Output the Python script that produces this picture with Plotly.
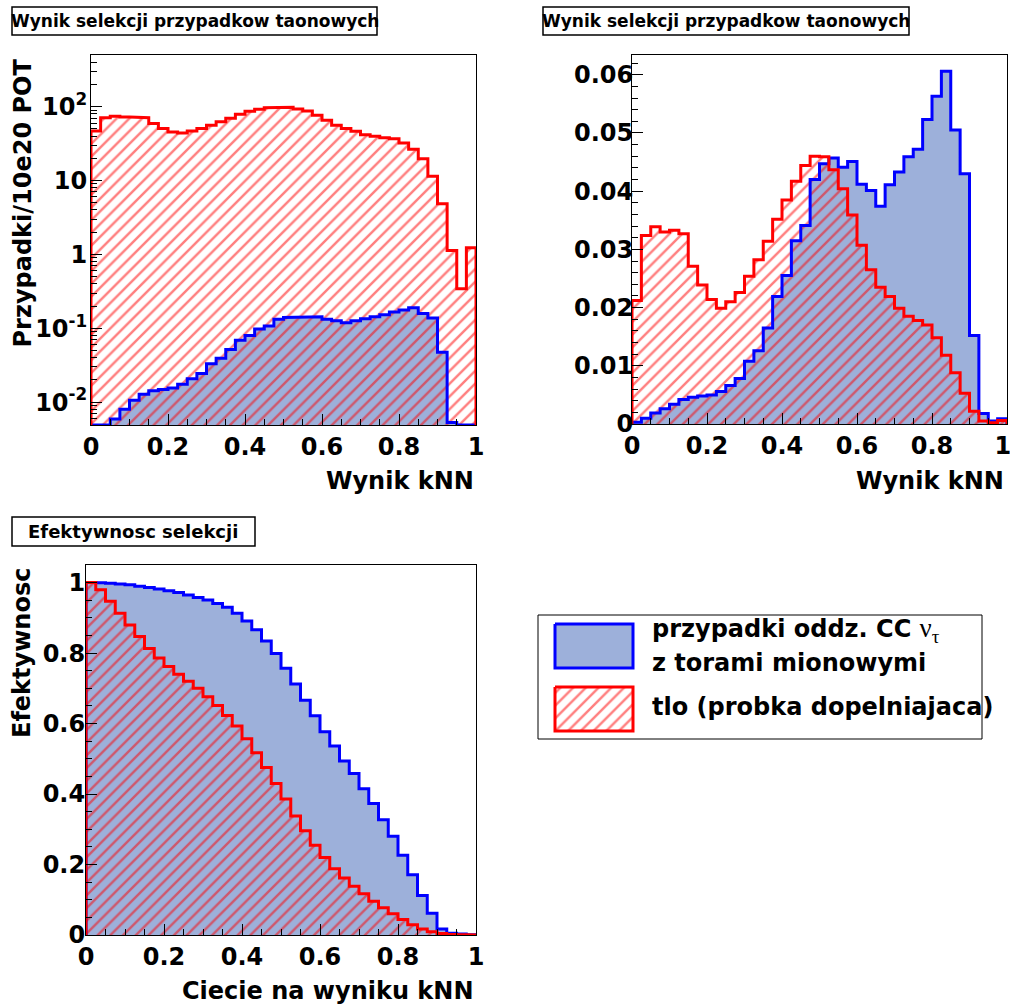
import numpy as np
import plotly.graph_objects as go

W, H = 1010, 1008

# ---------------- data ----------------
n_bins = 40
bin_edges = np.round(np.arange(n_bins + 1) * 0.025, 4)

# Panel 1: events / 10e20 POT (log scale)
sig_pot = [0.0009, 0.0031, 0.0059, 0.0080, 0.0106, 0.0128, 0.0142, 0.0148, 0.0155, 0.0175,
           0.0207, 0.0244, 0.033, 0.0394, 0.0516, 0.069, 0.080, 0.098, 0.107, 0.132,
           0.140, 0.143, 0.143, 0.143, 0.132, 0.126, 0.119, 0.126, 0.134, 0.143,
           0.152, 0.166, 0.176, 0.189, 0.158, 0.138, 0.0475, 0.0053, 0.0016, 0.0028]
bkg_pot = [46.9, 71, 74, 72.6, 72.6, 71, 59, 50.5, 45.5, 44,
           47, 50.5, 56, 62.5, 69.6, 78.8, 86.5, 92.2, 97, 99,
           98, 93, 87.5, 76.5, 65.5, 56, 50.5, 46.4, 41.8, 39.7,
           38.1, 36.9, 32.3, 26.5, 19.8, 11.4, 4.86, 1.13, 0.343, 1.23]

# Panel 2: normalised distributions
sig_norm = [0.0003, 0.0010, 0.0019, 0.0026, 0.0034, 0.0042, 0.0046, 0.0048, 0.0050, 0.0056,
            0.0066, 0.0078, 0.0108, 0.0126, 0.0165, 0.0219, 0.0255, 0.0315, 0.0341, 0.0420,
            0.0447, 0.0457, 0.0441, 0.0451, 0.0412, 0.0401, 0.0374, 0.0411, 0.0433, 0.0459,
            0.0472, 0.0523, 0.0563, 0.0606, 0.0505, 0.0430, 0.0152, 0.0018, 0.0005, 0.0009]
bkg_norm = [0.0212, 0.0324, 0.0339, 0.0330, 0.0333, 0.0327, 0.0271, 0.0239, 0.0214, 0.0199,
            0.0210, 0.0226, 0.0254, 0.0282, 0.0314, 0.0352, 0.0385, 0.0417, 0.0444, 0.0460,
            0.0459, 0.0437, 0.0404, 0.0359, 0.0307, 0.0265, 0.0235, 0.0219, 0.0199, 0.0185,
            0.0178, 0.0170, 0.0148, 0.0118, 0.0088, 0.0053, 0.0022, 0.0005, 0.0002, 0.0006]

# Panel 3: selection efficiency vs cut
sig_eff = [1.0, 0.9995, 0.998, 0.996, 0.994, 0.990, 0.986, 0.982, 0.977, 0.972,
           0.965, 0.958, 0.951, 0.941, 0.930, 0.913, 0.891, 0.866, 0.834, 0.799,
           0.757, 0.712, 0.666, 0.622, 0.577, 0.536, 0.494, 0.458, 0.415, 0.373,
           0.327, 0.280, 0.226, 0.171, 0.112, 0.062, 0.017, 0.005, 0.003, 0.001]
bkg_eff = [1.0, 0.980, 0.947, 0.913, 0.880, 0.847, 0.813, 0.786, 0.762, 0.740,
           0.720, 0.700, 0.676, 0.651, 0.623, 0.593, 0.557, 0.517, 0.475, 0.430,
           0.386, 0.338, 0.296, 0.255, 0.220, 0.188, 0.162, 0.138, 0.117, 0.096,
           0.077, 0.060, 0.044, 0.029, 0.017, 0.009, 0.004, 0.0015, 0.001, 0.0006]

titles = ["Wynik selekcji przypadkow taonowych", "Wynik selekcji przypadkow taonowych",
          "Efektywnosc selekcji"]
x_titles = ["Wynik kNN", "Wynik kNN", "Ciecie na wyniku kNN"]
y_titles = ["Przypadki/10e20 POT", None, "Efektywnosc"]
legend_labels = ["przypadki oddz. CC <span style=\"font-family:'Liberation Serif';font-weight:normal;font-size:27px\">&#957;<sub>&#964;</sub></span>",
                 "z torami mionowymi", "tlo (probka dopelniajaca)"]
x_tickvals = [0, 0.2, 0.4, 0.6, 0.8, 1.0]
x_ticktext = ["0", "0.2", "0.4", "0.6", "0.8", "1"]
x2_ticktext = ["0", "0.2", "0.4", "0.6", "0.8", "1\u00a0"]
log_tickvals = [0.01, 0.1, 1, 10, 100]
log_ticktext = ["10<sup>-2</sup>", "10<sup>-1</sup>", "1", "10", "10<sup>2</sup>"]

# ---------------- style ----------------
SIG_FILL = "rgb(157,176,218)"
SIG_LINE = "rgb(0,0,255)"
BKG_LINE = "rgb(255,0,0)"
FONT = "DejaVu Sans"
LW = 3
HATCH = dict(shape="/", fgcolor=BKG_LINE, bgcolor="rgba(0,0,0,0)", size=9,
             solidity=0.27, fillmode="overlay")

LOG_MIN, LOG_MAX = -2.31, 2.70


def px_x(p):
    return p / W


def px_y(p):
    return 1 - p / H


def step_xy(edges, vals, base):
    x = np.repeat(edges, 2)
    y = np.concatenate([[base], np.repeat(np.asarray(vals, float), 2), [base]])
    return x, y


fig = go.Figure()


def add_hist_pair(sig, bkg, xa, ya, fill_base, line_floor=None):
    s = np.asarray(sig, float)
    b = np.asarray(bkg, float)
    if line_floor is not None:
        s_line = np.maximum(s, line_floor)
        b_line = np.maximum(b, line_floor)
        lbase = line_floor
    else:
        s_line, b_line, lbase = s, b, 0
    # signal fill
    x, y = step_xy(bin_edges, s_line, fill_base)
    fig.add_trace(go.Scatter(x=x, y=y, mode="lines", line=dict(width=0, color=SIG_FILL),
                             fill="toself", fillcolor=SIG_FILL, xaxis=xa, yaxis=ya,
                             hoverinfo="skip", showlegend=False))
    # background hatch
    x, y = step_xy(bin_edges, b_line, fill_base)
    fig.add_trace(go.Scatter(x=x, y=y, mode="lines", line=dict(width=0, color=BKG_LINE),
                             fill="toself", fillcolor="rgba(0,0,0,0)", fillpattern=HATCH,
                             xaxis=xa, yaxis=ya, hoverinfo="skip", showlegend=False))
    # outlines
    x, y = step_xy(bin_edges, s_line, lbase)
    fig.add_trace(go.Scatter(x=x, y=y, mode="lines", line=dict(width=LW, color=SIG_LINE),
                             xaxis=xa, yaxis=ya, hoverinfo="skip", showlegend=False))
    x, y = step_xy(bin_edges, b_line, lbase)
    fig.add_trace(go.Scatter(x=x, y=y, mode="lines", line=dict(width=LW, color=BKG_LINE),
                             xaxis=xa, yaxis=ya, hoverinfo="skip", showlegend=False))


floor = 10 ** LOG_MIN
add_hist_pair(sig_pot, bkg_pot, "x", "y", 1e-4, line_floor=floor)
add_hist_pair(sig_norm, bkg_norm, "x2", "y2", 0)
add_hist_pair(sig_eff, bkg_eff, "x3", "y3", 0)

# legend swatches (drawn through a hidden pixel-unit axis)
LEG_BOX = dict(x0=555, x1=633)
LEG_SIG_Y = (624, 668)
LEG_BKG_Y = (687, 731)
for (y0, y1), is_sig in [(LEG_SIG_Y, True), (LEG_BKG_Y, False)]:
    xs = [LEG_BOX["x0"], LEG_BOX["x1"], LEG_BOX["x1"], LEG_BOX["x0"], LEG_BOX["x0"]]
    ys = [y0, y0, y1, y1, y0]
    if is_sig:
        fig.add_trace(go.Scatter(x=xs, y=ys, mode="lines", fill="toself", fillcolor=SIG_FILL,
                                 line=dict(color=SIG_LINE, width=LW), xaxis="x4", yaxis="y4",
                                 hoverinfo="skip", showlegend=False))
    else:
        fig.add_trace(go.Scatter(x=xs, y=ys, mode="lines", fill="toself",
                                 fillcolor="rgba(0,0,0,0)", fillpattern=HATCH,
                                 line=dict(color=BKG_LINE, width=LW), xaxis="x4", yaxis="y4",
                                 hoverinfo="skip", showlegend=False))

tickfont = dict(family=FONT, size=24, color="black", weight="bold")


def xaxis_cfg(domain_px, anchor, ticktext):
    return dict(domain=[px_x(domain_px[0]), px_x(domain_px[1])], anchor=anchor,
                range=[0, 1], tickmode="array", tickvals=x_tickvals, ticktext=ticktext,
                ticks="inside", ticklen=11, tickwidth=1, tickcolor="black",
                ticklabeloverflow="allow",
                minor=dict(ticks="inside", ticklen=6, tick0=0, dtick=0.05, tickcolor="black",
                           tickwidth=1),
                showline=True, mirror=True, linecolor="black", linewidth=1,
                showgrid=False, zeroline=False, tickfont=tickfont, fixedrange=True)


def yaxis_cfg(domain_px, anchor, **kw):
    d = dict(domain=[px_y(domain_px[1]), px_y(domain_px[0])], anchor=anchor,
             ticks="inside", ticklen=11, tickwidth=1, tickcolor="black",
             ticklabeloverflow="allow",
             showline=True, mirror=True, linecolor="black", linewidth=1,
             showgrid=False, zeroline=False, tickfont=tickfont, fixedrange=True)
    d.update(kw)
    return d


minor_log = [m * 10.0 ** e for e in range(-3, 3) for m in range(2, 10)]

fig.update_layout(
    width=W, height=H, margin=dict(l=0, r=0, t=0, b=0, autoexpand=False),
    paper_bgcolor="white", plot_bgcolor="white", showlegend=False,
    xaxis=xaxis_cfg((91, 476), "y", x_ticktext),
    yaxis=yaxis_cfg((55, 425), "x", type="log", range=[LOG_MIN, LOG_MAX],
                    tickmode="array", tickvals=log_tickvals, ticktext=log_ticktext,
                    ticklabelstandoff=-2,
                    minor=dict(ticks="inside", ticklen=6, tickmode="array",
                               tickvals=minor_log, tickcolor="black", tickwidth=1)),
    xaxis2=xaxis_cfg((632, 1007), "y2", x2_ticktext),
    yaxis2=yaxis_cfg((55, 424), "x2", range=[0, 0.0634], tickmode="linear", tick0=0,
                     dtick=0.01, ticklabelstandoff=-7,
                     minor=dict(ticks="inside", ticklen=6, tick0=0, dtick=0.002,
                                tickcolor="black", tickwidth=1)),
    xaxis3=xaxis_cfg((86, 476), "y3", x_ticktext),
    yaxis3=yaxis_cfg((565, 935), "x3", range=[0, 1.05], tickmode="linear", tick0=0,
                     dtick=0.2, ticklabelstandoff=-5,
                     minor=dict(ticks="inside", ticklen=6, tick0=0, dtick=0.05,
                                tickcolor="black", tickwidth=1)),
    xaxis4=dict(domain=[px_x(545), px_x(643)], range=[545, 643], visible=False,
                anchor="y4", fixedrange=True),
    yaxis4=dict(domain=[px_y(741), px_y(614)], range=[741, 614], visible=False,
                anchor="x4", fixedrange=True),
)

shapes = []
annotations = []

# title boxes: (x0, y0, x1, y1, text centre x, font size)
title_boxes = [(12, 7, 377, 35, 195, 17), (543, 7, 909, 35, 726, 17),
               (12, 517, 255, 546, 133, 18)]
for (x0, y0, x1, y1, cx, fs), t in zip(title_boxes, titles):
    shapes.append(dict(type="rect", xref="paper", yref="paper", x0=px_x(x0), x1=px_x(x1),
                       y0=px_y(y1), y1=px_y(y0), line=dict(color="black", width=1.5),
                       fillcolor="white", layer="above"))
    annotations.append(dict(text=t, xref="paper", yref="paper", x=px_x(cx),
                            y=px_y((y0 + y1) / 2), xanchor="center", yanchor="middle",
                            showarrow=False,
                            font=dict(family=FONT, size=fs, color="black", weight="bold")))

# legend frame
shapes.append(dict(type="rect", xref="paper", yref="paper", x0=px_x(538), x1=px_x(982),
                   y0=px_y(739), y1=px_y(615), line=dict(color="black", width=1),
                   fillcolor="rgba(0,0,0,0)", layer="below"))
legend_pos = [(650, 630), (650, 663), (650, 707)]
for (lx, ly), t in zip(legend_pos, legend_labels):
    annotations.append(dict(text=t, xref="paper", yref="paper", x=px_x(lx), y=px_y(ly),
                            xanchor="left", yanchor="middle", showarrow=False,
                            font=dict(family=FONT, size=24, color="black", weight="bold")))

# axis titles (x, y)
axfont = dict(family=FONT, size=24, color="black", weight="bold")
x_title_pos = [(476, 481), (1006, 481), (476, 991)]
for (tx, ty), t in zip(x_title_pos, x_titles):
    annotations.append(dict(text=t, xref="paper", yref="paper", x=px_x(tx), y=px_y(ty),
                            xanchor="right", yanchor="middle", showarrow=False, font=axfont))
y_title_pos = [(22, 57), None, (22, 566)]
for pos, t in zip(y_title_pos, y_titles):
    if t is None:
        continue
    annotations.append(dict(text=t, xref="paper", yref="paper", x=px_x(pos[0]),
                            y=px_y(pos[1]), xanchor="center", yanchor="top", textangle=-90,
                            showarrow=False, font=axfont))

fig.update_layout(shapes=shapes, annotations=annotations)

fig.write_html("out.html")
